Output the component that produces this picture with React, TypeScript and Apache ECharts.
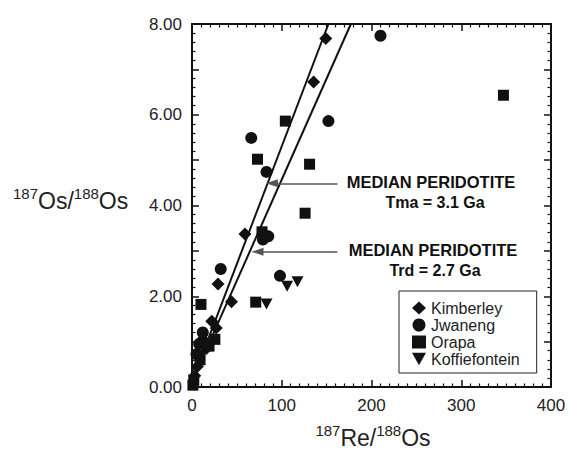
import React, { useEffect, useRef } from 'react';
import * as echarts from 'echarts';

const kimberley: number[][] = [
  [149, 7.68], [135.5, 6.72], [59, 3.37], [29, 2.27], [44, 1.88], [22, 1.45],
  [27, 1.3], [16, 0.85], [12, 1.05], [6, 0.45], [3, 0.25],
];
const jwaneng: number[][] = [
  [210, 7.74], [152, 5.86], [66, 5.49], [83, 4.74], [79, 3.25], [85, 3.32],
  [32, 2.6], [98, 2.45], [12, 1.2], [8, 0.95], [5, 0.72], [16, 0.95],
];
const orapa: number[][] = [
  [347, 6.43], [104, 5.86], [73, 5.02], [131, 4.91], [126, 3.83], [78, 3.42],
  [10, 1.82], [71, 1.87], [25.5, 1.05], [19, 0.9], [9, 0.6], [2, 0.15], [1, 0.04],
];
const koffiefontein: number[][] = [
  [83, 1.83], [106, 2.22], [117.5, 2.32], [7, 0.7],
];
const tmaLine: number[][] = [[0, 0.12], [152, 8]];
const trdLine: number[][] = [[0, 0.12], [177, 8]];
const tmaArrow: number[][] = [[162, 4.49], [89, 4.49]];
const trdArrow: number[][] = [[162, 2.98], [73, 2.98]];

const xTicks = { min: 0, max: 400, interval: 100 };
const yTicks = { min: 0, max: 8, interval: 1 };

const FONT = '"Liberation Sans", Arial, Helvetica, sans-serif';
const DOWN_TRI = 'path://M0,0L10,0L5,9Z';

export default function App() {
  const ref = useRef<HTMLDivElement>(null);
  useEffect(() => {
    if (!ref.current) return;
    const chart = echarts.init(ref.current, undefined, { renderer: 'svg' });
    const axisLine = { show: true, onZero: false, lineStyle: { color: '#111', width: 2 } };
    const axisTick = { show: true, inside: true, length: 7, lineStyle: { color: '#111', width: 1.5 } };
    const minorLine = { color: '#111', width: 1.2 };
    const xBase = {
      type: 'value', ...xTicks, axisLine, axisTick,
      minorTick: { show: true, splitNumber: 10, length: 3.5, lineStyle: minorLine },
      splitLine: { show: false },
    };
    const yBase = {
      type: 'value', ...yTicks, axisLine, axisTick,
      minorTick: { show: true, splitNumber: 5, length: 3.5, lineStyle: minorLine },
      splitLine: { show: false },
    };
    const rich = {
      sup: { fontSize: 15, lineHeight: 15, verticalAlign: 'top', fontFamily: FONT, fill: '#222', color: '#222' },
      big: { fontSize: 23, lineHeight: 30, fontFamily: FONT, fill: '#222', color: '#222' },
    };
    const scatterCommon = { type: 'scatter', z: 5, itemStyle: { color: '#111', opacity: 1 } };
    const bold = (text: string, x: number, y: number, size: number) => ({
      type: 'text', x, y,
      style: { text, fontSize: size, fontWeight: 'bold', fontFamily: FONT, fill: '#111', textAlign: 'center', textVerticalAlign: 'middle' },
    });
    chart.setOption({
      animation: false,
      backgroundColor: '#fff',
      grid: { left: 192, top: 24, right: 20, bottom: 63 },
      xAxis: [
        { ...xBase, position: 'bottom', axisLabel: { fontSize: 17, color: '#222', margin: 10, fontFamily: FONT } },
        { ...xBase, position: 'top', axisLabel: { show: false } },
      ],
      yAxis: [
        {
          ...yBase, position: 'left',
          axisLabel: {
            fontSize: 17, color: '#222', margin: 10, fontFamily: FONT,
            formatter: (v: number) => (Math.round(v) % 2 === 0 ? v.toFixed(2) : ''),
          },
        },
        { ...yBase, position: 'right', axisLabel: { show: false } },
      ],
      legend: {
        orient: 'vertical',
        left: 399,
        top: 291,
        padding: [9, 17, 6, 13],
        itemGap: 1,
        itemWidth: 14,
        itemHeight: 13,
        borderColor: '#222',
        borderWidth: 1,
        textStyle: { fontSize: 16, color: '#222', fontFamily: FONT },
        data: [
          { name: 'Kimberley', icon: 'diamond' },
          { name: 'Jwaneng', icon: 'circle' },
          { name: 'Orapa', icon: 'rect' },
          { name: 'Koffiefontein', icon: DOWN_TRI },
        ],
      },
      series: [
        {
          type: 'line', data: tmaLine, symbol: 'none', silent: true, z: 3,
          lineStyle: { color: '#111', width: 2 },
          markLine: {
            silent: true, symbol: ['none', 'triangle'], symbolSize: [8, 12],
            label: { show: false },
            lineStyle: { color: '#555', width: 1.5, type: 'solid' },
            data: [[{ coord: tmaArrow[0] }, { coord: tmaArrow[1] }]],
          },
        },
        {
          type: 'line', data: trdLine, symbol: 'none', silent: true, z: 3,
          lineStyle: { color: '#111', width: 2 },
          markLine: {
            silent: true, symbol: ['none', 'triangle'], symbolSize: [8, 12],
            label: { show: false },
            lineStyle: { color: '#555', width: 1.5, type: 'solid' },
            data: [[{ coord: trdArrow[0] }, { coord: trdArrow[1] }]],
          },
        },
        { ...scatterCommon, name: 'Kimberley', data: kimberley, symbol: 'diamond', symbolSize: 13 },
        { ...scatterCommon, name: 'Jwaneng', data: jwaneng, symbol: 'circle', symbolSize: 12 },
        { ...scatterCommon, name: 'Orapa', data: orapa, symbol: 'rect', symbolSize: 11 },
        { ...scatterCommon, name: 'Koffiefontein', data: koffiefontein, symbol: DOWN_TRI, symbolSize: [12, 11] },
      ],
      graphic: [
        bold('MEDIAN PERIDOTITE', 431, 182, 16.5),
        bold('Tma = 3.1 Ga', 435, 202, 16),
        bold('MEDIAN PERIDOTITE', 433, 250, 16.5),
        bold('Trd = 2.7 Ga', 435, 270, 16),
        {
          type: 'text', x: 13, y: 201,
          style: { text: '{sup|187}{big|Os/}{sup|188}{big|Os}', rich, textAlign: 'left', textVerticalAlign: 'middle' },
        },
        {
          type: 'text', x: 373, y: 438,
          style: { text: '{sup|187}{big|Re/}{sup|188}{big|Os}', rich, textAlign: 'center', textVerticalAlign: 'middle' },
        },
      ],
    });
    return () => chart.dispose();
  }, []);
  return <div ref={ref} style={{ position: 'fixed', left: 0, top: 0, width: 571, height: 450 }} />;
}
